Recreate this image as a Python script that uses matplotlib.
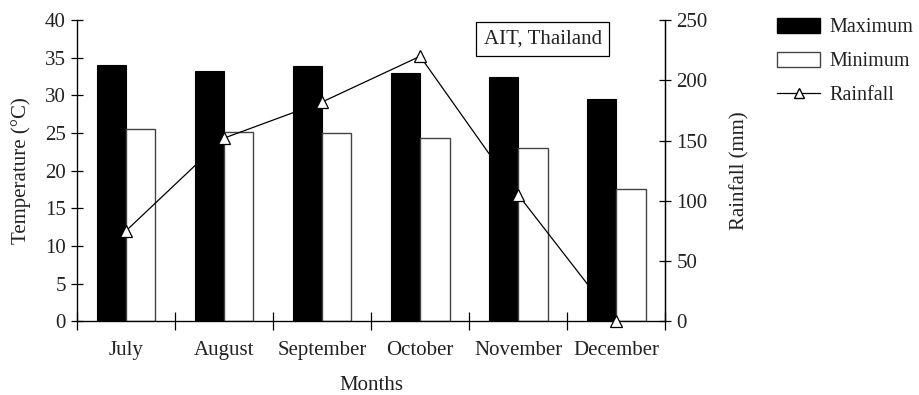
import numpy as np
import matplotlib.pyplot as plt
from matplotlib.patches import Patch
from matplotlib.lines import Line2D

months = ['July', 'August', 'September', 'October', 'November', 'December']
t_max = [34.0, 33.2, 33.9, 33.0, 32.4, 29.5]
t_min = [25.5, 25.2, 25.0, 24.4, 23.0, 17.6]
rainfall = [75, 152, 182, 220, 105, 0]

plt.rcParams['font.family'] = ['Liberation Serif', 'DejaVu Serif']
plt.rcParams['font.size'] = 15
plt.rcParams['text.color'] = '#222222'
plt.rcParams['axes.labelcolor'] = '#222222'
plt.rcParams['xtick.labelcolor'] = '#222222'
plt.rcParams['ytick.labelcolor'] = '#222222'

fig = plt.figure(figsize=(9.2, 3.95), dpi=100)
ax = fig.add_axes([0.0837, 0.187, 0.6393, 0.762])

x = np.arange(len(months))
w = 0.3
ax.bar(x - w / 2, t_max, w, color='black', edgecolor='black', linewidth=0.8)
ax.bar(x + w / 2, t_min, w, color='white', edgecolor='#444444', linewidth=1.0)

ax.set_xlim(-0.5, len(months) - 0.5)
ax.set_ylim(0, 40)
ax.set_yticks(range(0, 41, 5))
ax.set_xticks(np.arange(-0.5, len(months), 1))
ax.set_xticklabels([])
ax.set_xticks(x, minor=True)
ax.set_xticklabels(months, minor=True)
ax.tick_params(axis='x', which='major', direction='inout', length=13, width=0.9)
ax.tick_params(axis='x', which='minor', length=0, pad=14)
ax.tick_params(axis='y', direction='inout', length=8, width=0.9, pad=4)
ax.spines['top'].set_visible(False)
for s in ['left', 'bottom', 'right']:
    ax.spines[s].set_linewidth(0.9)
ax.set_ylabel('Temperature (°C)', labelpad=10)
ax.set_xlabel('Months', labelpad=12)

ax2 = ax.twinx()
ax2.plot(x, rainfall, color='black', linewidth=0.9, marker='^', markersize=8,
         markerfacecolor='white', markeredgecolor='black', markeredgewidth=0.9,
         clip_on=False, zorder=5)
ax2.set_ylim(0, 250)
ax2.set_yticks(range(0, 251, 50))
ax2.tick_params(axis='y', direction='inout', length=8, width=0.9, pad=4)
ax2.spines['top'].set_visible(False)
ax2.spines['right'].set_linewidth(0.9)
ax2.set_ylabel('Rainfall (mm)', labelpad=16)

ax.text(0.792, 0.937, 'AIT, Thailand', transform=ax.transAxes, ha='center', va='center',
        bbox=dict(boxstyle='square,pad=0.35', facecolor='white', edgecolor='black', linewidth=0.9),
        zorder=10)

handles = [
    Patch(facecolor='black', edgecolor='black'),
    Patch(facecolor='white', edgecolor='#444444'),
    Line2D([], [], color='black', linewidth=0.9, marker='^', markersize=7,
           markerfacecolor='white', markeredgecolor='black'),
]
fig.legend(handles, ['Maximum', 'Minimum', 'Rainfall'], loc='upper left',
           bbox_to_anchor=(0.836, 0.975), frameon=False, handlelength=2.15,
           handleheight=0.75, labelspacing=0.72, handletextpad=0.45, borderaxespad=0,
           fontsize=14.5)

fig.savefig('out.png', dpi=100)
